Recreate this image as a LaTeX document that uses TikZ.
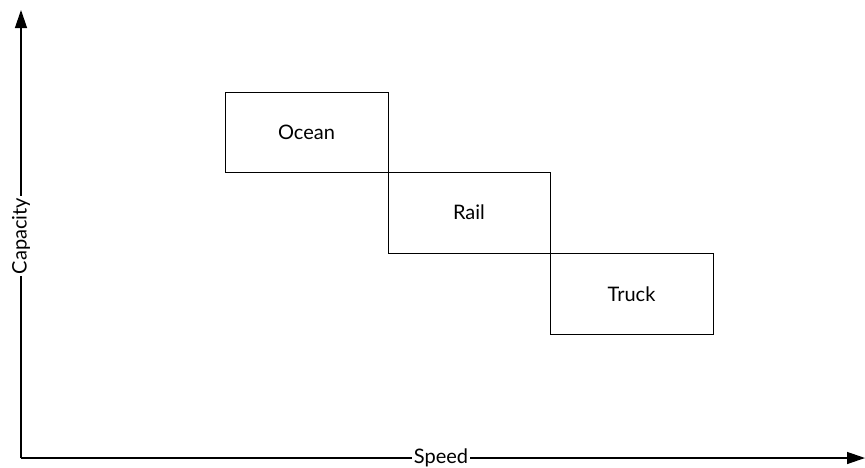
\documentclass[tikz,border=0pt]{standalone}
\usepackage{fontspec}
\setmainfont{Lato}
\usetikzlibrary{arrows.meta}
\tikzset{
  modebox/.style={draw, line width=1pt},
  modetext/.style={font=\fontsize{20}{24}\selectfont},
  axislabel/.style={fill=white, inner sep=1.5pt, font=\fontsize{20}{24}\selectfont},
  axisarrow/.style={line width=1.3pt, -{Triangle[width=12pt,length=18pt]}}
}
\begin{document}
\begin{tikzpicture}[x=1pt,y=-1pt]
  \useasboundingbox (0,0) rectangle (865,467);

  % transport modes
  \draw[modebox] (225,92) rectangle (388,172);
  \draw[modebox] (388,172) rectangle (550,253);
  \draw[modebox] (550,253) rectangle (713,334);

  \node[modetext] (ocean) at (306.5,132) {Ocean};
  \node[modetext] (rail) at (469,212.5) {Rail};
  \node[modetext] (truck) at (631.5,294) {Truck};

  % axes
  \coordinate (origin) at (21,458);
  \coordinate (ytop) at (21,10);
  \coordinate (xend) at (865,458);
  \draw[axisarrow] (origin) -- (ytop);
  \draw[axisarrow] (origin) -- (xend);

  \node[axislabel, rotate=90] (capacity) at (21,236) {Capacity};
  \node[axislabel] (speed) at (441,458) {Speed};

\end{tikzpicture}
\end{document}
